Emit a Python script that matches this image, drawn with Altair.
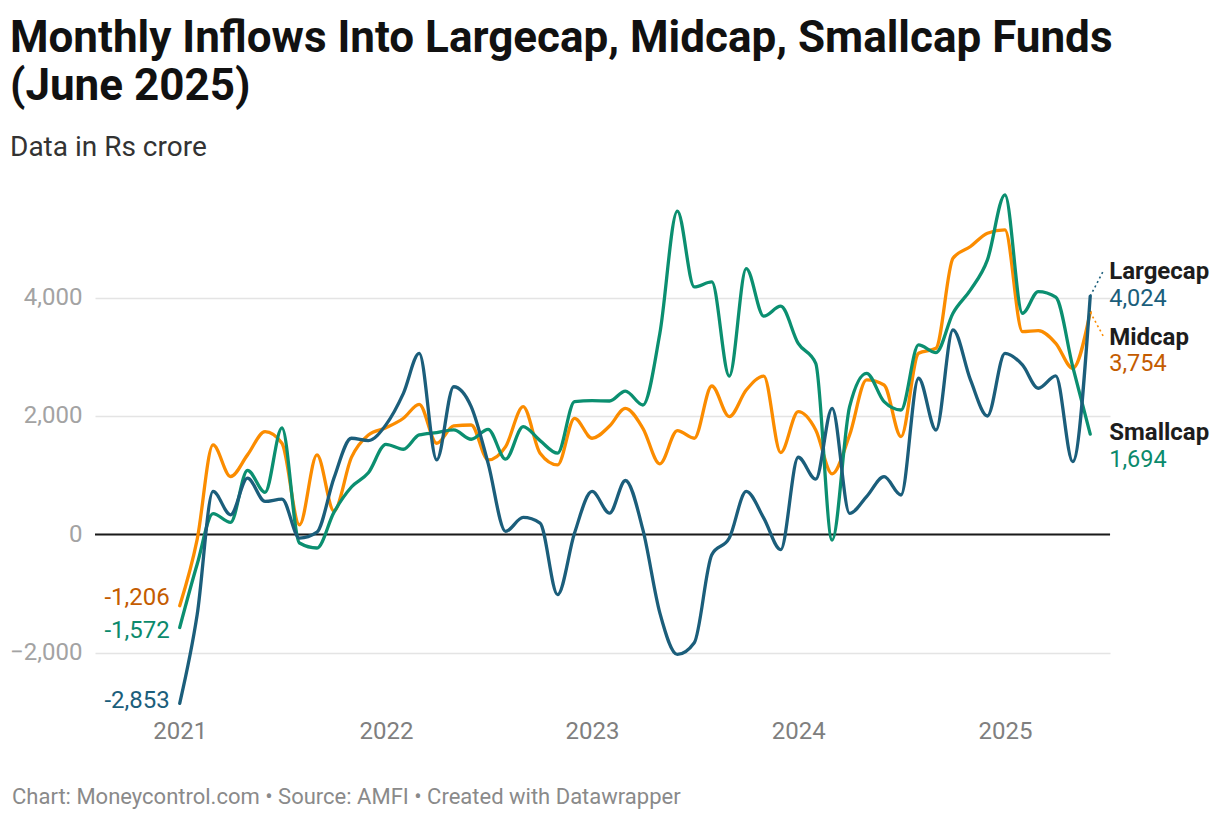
import altair as alt
import pandas as pd

# ---------------- data (Rs crore, Jan 2021 - Jun 2025) ----------------
years = [2021, 2022, 2023, 2024, 2025]
months = pd.date_range("2021-01-01", periods=54, freq="MS").strftime("%Y-%m-%dT00:00:00").tolist()

largecap = [-2853, -1350, 725, 331, 949, 556, 595, -62, 39, 950, 1624, 1584,
            1850, 2382, 3056, 1258, 2494, 2157, 1200, 51, 287, 191, -1017, 22,
            725, 360, 910, 79, -1326, -2028, -1831, -343, -62, 725, 275, -258,
            1303, 933, 2130, 355, 637, 975, 665, 2637, 1763, 3454, 2609, 2000,
            3059, 2862, 2468, 2676, 1228, 4024]
midcap = [-1206, -80, 1511, 978, 1343, 1736, 1539, 163, 1343, 395, 1300, 1680,
          1800, 1961, 2197, 1539, 1831, 1848, 1258, 1483, 2157, 1371, 1174, 1961,
          1624, 1830, 2129, 1792, 1191, 1753, 1624, 2506, 1989, 2438, 2674, 1382,
          2073, 1764, 1022, 1679, 2609, 2524, 1651, 3059, 3144, 4665, 4862, 5087,
          5144, 3425, 3442, 3228, 2806, 3754]
smallcap = [-1572, -500, 350, 203, 1082, 710, 1798, -146, -230, 372, 800, 1040,
            1520, 1438, 1680, 1719, 1764, 1607, 1775, 1270, 1820, 1584, 1371, 2242,
            2258, 2253, 2421, 2185, 3393, 5461, 4180, 4264, 2674, 4489, 3685, 3854,
            3225, 2888, -96, 2158, 2721, 2242, 2101, 3200, 3070, 3735, 4130, 4637,
            5735, 3735, 4101, 4006, 2834, 1694]

series_names = ["Largecap", "Midcap", "Smallcap"]
series_values = [largecap, midcap, smallcap]
line_colors = ["#1b5e7b", "#fb8c00", "#0b8f70"]
label_colors = ["#1b5e7b", "#c45c00", "#0b8a6c"]

title_lines = ["Monthly Inflows Into Largecap, Midcap, Smallcap Funds", "(June 2025)"]
subtitle = "Data in Rs crore"
footer = "Chart: Moneycontrol.com \u2022 Source: AMFI \u2022 Created with Datawrapper"

rows = []
for name, vals in zip(series_names, series_values):
    for d, v in zip(months, vals):
        rows.append({"date": d, "series": name, "value": v})
df = pd.DataFrame(rows)

end_df = pd.DataFrame({"series": series_names, "date": [months[-1]] * 3,
                       "value": [v[-1] for v in series_values]})
start_df = pd.DataFrame({"series": series_names, "date": [months[0]] * 3,
                         "value": [v[0] for v in series_values]})

# ---------------- chart ----------------
W, H = 1015, 521
FONT = "Roboto"

x_scale = alt.Scale(domain=[alt.DateTime(year=2020, month=8, date=4),
                            alt.DateTime(year=2025, month=7, date=6)])
y_scale = alt.Scale(domain=[-3000, 5800], nice=False, zero=False)
color_scale = alt.Scale(domain=series_names, range=line_colors)

x_axis = alt.Axis(values=[alt.DateTime(year=y, month=1, date=1) for y in years],
                  format="%Y", title=None, grid=False, domain=False, ticks=False,
                  labelFontSize=24, labelColor="#7f7f7f", labelPadding=7, labelFont=FONT)
y_axis = alt.Axis(values=[-2000, 0, 2000, 4000], format=",.0f", title=None, domain=False,
                  ticks=False, gridColor="#e4e4e4", gridWidth=1.5, labelFontSize=24,
                  labelColor="#a3a3a3", labelPadding=13, labelFont=FONT)


def XE(field="date:T"):
    return alt.X(field, scale=x_scale, axis=x_axis)


def YE(field="value:Q"):
    return alt.Y(field, scale=y_scale, axis=y_axis)


layers = []

zero = alt.Chart(pd.DataFrame({"value": [0]})).mark_rule(color="#1a1a1a", strokeWidth=2).encode(
    y=YE())
layers.append(zero)

for name in ["Midcap", "Smallcap", "Largecap"]:
    layers.append(
        alt.Chart(df).transform_filter(alt.datum.series == name)
        .mark_line(interpolate="monotone", strokeWidth=3.3, strokeCap="round")
        .encode(x=XE(), y=YE(), color=alt.Color("series:N", scale=color_scale, legend=None))
    )

# connectors
conn = {"Largecap": (13, -25), "Midcap": (13, 24)}
for name, (ox, oy) in conn.items():
    c = line_colors[series_names.index(name)]
    layers.append(
        alt.Chart(end_df).transform_filter(alt.datum.series == name)
        .mark_rule(color=c, strokeWidth=1.6, strokeDash=[2, 3], x2Offset=ox, y2Offset=oy)
        .encode(x=XE(), y=YE(), x2=alt.X2("date:T"), y2=alt.Y2("value:Q"))
    )

# end / start labels
name_dy = {"Largecap": -24, "Midcap": 26, "Smallcap": -1}
value_dy = {"Largecap": 3, "Midcap": 52, "Smallcap": 26}
start_dy = {"Largecap": -2, "Midcap": -8, "Smallcap": 4}
for i, name in enumerate(series_names):
    layers.append(
        alt.Chart(end_df).transform_filter(alt.datum.series == name)
        .mark_text(align="left", baseline="middle", dx=19, dy=name_dy[name], font=FONT,
                   fontSize=24, fontWeight="bold", color="#1d1d1d")
        .encode(x=XE(), y=YE(), text="series:N")
    )
    layers.append(
        alt.Chart(end_df).transform_filter(alt.datum.series == name)
        .transform_calculate(lbl="format(datum.value, ',')")
        .mark_text(align="left", baseline="middle", dx=19, dy=value_dy[name], font=FONT,
                   fontSize=23.5, color=label_colors[i])
        .encode(x=XE(), y=YE(), text="lbl:N")
    )
    layers.append(
        alt.Chart(start_df).transform_filter(alt.datum.series == name)
        .transform_calculate(lbl="replace(format(datum.value, ','), '\u2212', '-')")
        .mark_text(align="right", baseline="middle", dx=-10, dy=start_dy[name], font=FONT,
                   fontSize=24, color=label_colors[i])
        .encode(x=XE(), y=YE(), text="lbl:N")
    )

# footer
layers.append(
    alt.Chart(pd.DataFrame({"t": [footer]})).mark_text(
        align="left", baseline="middle", font=FONT, fontSize=22, color="#8a8a8a")
    .encode(x=alt.value(-83), y=alt.value(606), text="t:N")
)

chart = alt.layer(*layers).properties(
    width=W, height=H,
    padding={"left": 87, "top": 183, "right": 102, "bottom": 100},
    autosize=alt.AutoSizeParams(type="none"),
    background="white",
    title=alt.Title(text=title_lines, subtitle=subtitle, anchor="start", frame="group",
                    dx=-85, font=FONT, fontSize=44, fontWeight="bold", color="#111111",
                    lineHeight=48, subtitleFont=FONT, subtitleFontSize=28,
                    subtitleColor="#333333", subtitlePadding=25, offset=26),
).configure_view(stroke="transparent", strokeWidth=0)

chart.save("out.html", embed_options={"renderer": "svg", "actions": False})
